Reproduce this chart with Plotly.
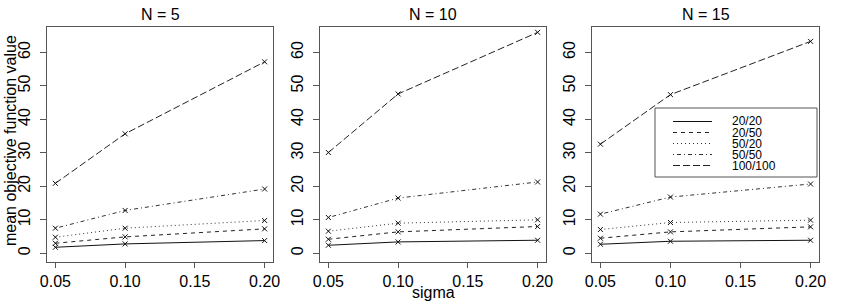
import plotly.graph_objects as go

sigma = [0.05, 0.10, 0.20]
series_names = ["20/20", "20/50", "50/20", "50/50", "100/100"]
panel_titles = ["N = 5", "N = 10", "N = 15"]

n5_20_20 = [1.8, 2.8, 3.8]
n5_20_50 = [3.0, 4.9, 7.3]
n5_50_20 = [4.8, 7.5, 9.8]
n5_50_50 = [7.5, 12.8, 19.2]
n5_100_100 = [20.9, 35.7, 57.2]

n10_20_20 = [2.4, 3.4, 3.9]
n10_20_50 = [4.2, 6.4, 8.0]
n10_50_20 = [6.6, 9.0, 10.0]
n10_50_50 = [10.7, 16.5, 21.3]
n10_100_100 = [30.1, 47.6, 66.0]

n15_20_20 = [2.7, 3.6, 3.9]
n15_20_50 = [4.5, 6.4, 7.9]
n15_50_20 = [7.1, 9.2, 9.9]
n15_50_50 = [11.7, 16.8, 20.7]
n15_100_100 = [32.6, 47.4, 63.3]

panels = [
    [n5_20_20, n5_20_50, n5_50_20, n5_50_50, n5_100_100],
    [n10_20_20, n10_20_50, n10_50_20, n10_50_50, n10_100_100],
    [n15_20_20, n15_20_50, n15_50_20, n15_50_50, n15_100_100],
]

dashes = ["solid", "4px,4px", "1px,3px", "1px,3px,4px,3px", "7px,3px"]
line_colors = ["#111111", "#222222", "#333333", "#333333", "#222222"]

W, H = 847, 307
FONT = "Liberation Sans, Arial, sans-serif"
box_x = [(47, 273), (320, 546), (592, 819)]
box_y = (27, 262)

fig = go.Figure()
layout = dict(
    width=W, height=H, margin=dict(l=0, r=0, t=0, b=0, autoexpand=False),
    paper_bgcolor="white", plot_bgcolor="white", showlegend=False,
    font=dict(family=FONT, size=16, color="black"),
)
annotations = []
shapes = []

for i, (vals, title) in enumerate(zip(panels, panel_titles)):
    xa = "x" if i == 0 else f"x{i+1}"
    ya = "y" if i == 0 else f"y{i+1}"
    for name, v, d, c in zip(series_names, vals, dashes, line_colors):
        fig.add_trace(go.Scatter(
            x=sigma, y=v, mode="lines+markers", name=name,
            line=dict(color=c, width=1, dash=d),
            marker=dict(symbol="x-thin", size=5, line=dict(width=1, color="#111111")),
            xaxis=xa, yaxis=ya, showlegend=False,
        ))
    x0, x1 = box_x[i]
    axcommon = dict(showline=True, mirror=True, linecolor="#555555", linewidth=1,
                    ticks="outside", tickcolor="#555555", showgrid=False,
                    zeroline=False, automargin=False, tickfont=dict(size=16, family=FONT))
    layout["xaxis" if i == 0 else f"xaxis{i+1}"] = dict(
        domain=[x0 / W, x1 / W], range=[0.044, 0.206], anchor=ya, ticklen=5,
        tickvals=[0.05, 0.10, 0.15, 0.20], tickformat=".2f", **axcommon)
    layout["yaxis" if i == 0 else f"yaxis{i+1}"] = dict(
        domain=[1 - box_y[1] / H, 1 - box_y[0] / H], range=[-2.6, 67.6], anchor=xa,
        ticklen=6, ticklabelstandoff=4,
        tickvals=[0, 10, 20, 30, 40, 50, 60], tickangle=-90, **axcommon)
    annotations.append(dict(text=title, x=(x0 + x1) / 2 / W, y=1 - 14 / H, xref="paper", yref="paper",
                            showarrow=False, xanchor="center", yanchor="middle",
                            font=dict(size=16, family=FONT)))

annotations.append(dict(text="sigma", x=433 / W, y=1 - 292 / H, xref="paper", yref="paper",
                        showarrow=False, xanchor="center", yanchor="middle", font=dict(size=16, family=FONT)))
annotations.append(dict(text="mean objective function value", x=10 / W, y=1 - 141 / H, xref="paper",
                        yref="paper", showarrow=False, textangle=-90, xanchor="center", yanchor="middle",
                        font=dict(size=16, family=FONT)))

# manual legend (R-style)
lx0, lx1, ly0, ly1 = 655, 817, 108, 177
shapes.append(dict(type="rect", xref="paper", yref="paper", x0=lx0 / W, x1=lx1 / W,
                   y0=1 - ly1 / H, y1=1 - ly0 / H, line=dict(color="#555555", width=1),
                   fillcolor="white", layer="above"))
row_y = [121.5, 132.5, 143.5, 154.5, 165.5]
for name, d, c, ry in zip(series_names, dashes, line_colors, row_y):
    shapes.append(dict(type="line", xref="paper", yref="paper", x0=673 / W, x1=712 / W,
                       y0=1 - ry / H, y1=1 - ry / H, line=dict(color=c, width=1, dash=d), layer="above"))
    annotations.append(dict(text=name, x=731 / W, y=1 - ry / H, xref="paper", yref="paper",
                            showarrow=False, xanchor="left", yanchor="middle", align="left",
                            borderpad=0, font=dict(size=12, family=FONT)))

layout["annotations"] = annotations
layout["shapes"] = shapes
fig.update_layout(**layout)
fig.write_html("out.html", config={"displayModeBar": False},
               post_script="document.body.style.margin='0';document.body.style.overflow='hidden';")
